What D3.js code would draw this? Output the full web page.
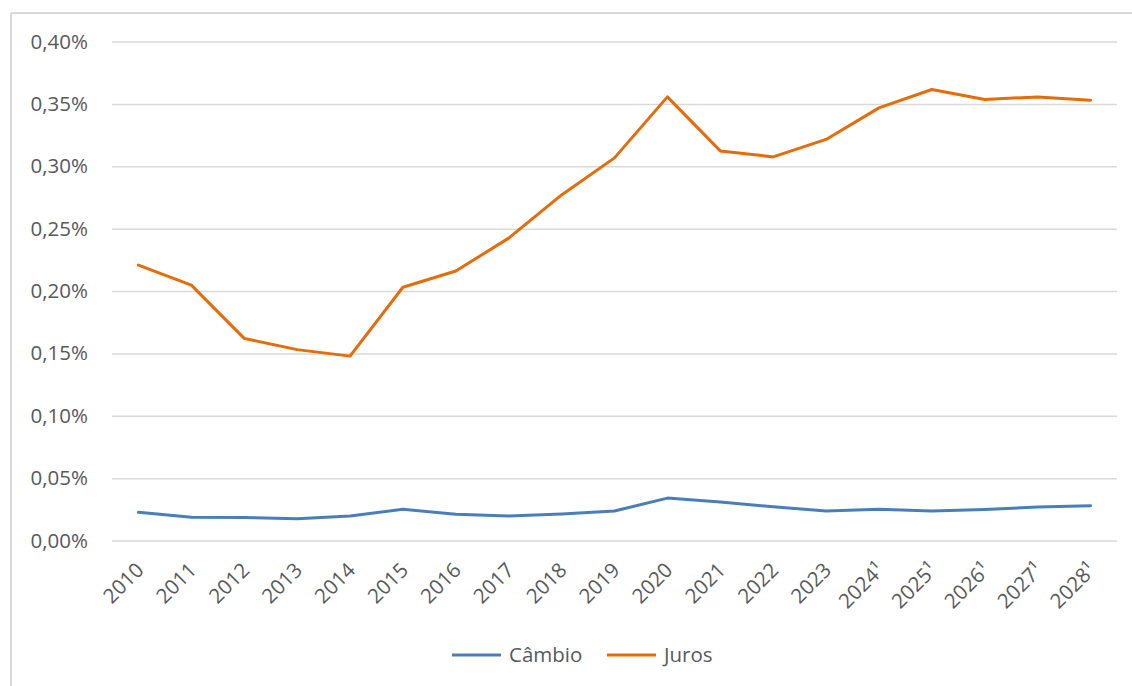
<!DOCTYPE html>
<html><head><meta charset="utf-8">
<script src="https://cdn.jsdelivr.net/npm/d3@7"></script>
<style>body{margin:0;background:#fff}svg{display:block}</style>
</head><body>
<svg id="c" width="1132" height="686"></svg>
<script>
const years = ["2010","2011","2012","2013","2014","2015","2016","2017","2018","2019","2020","2021","2022","2023","2024¹","2025¹","2026¹","2027¹","2028¹"];
const cambio = [0.0226,0.0186,0.0184,0.0175,0.0196,0.0250,0.0210,0.0196,0.0212,0.0236,0.0340,0.0308,0.0270,0.0236,0.0250,0.0236,0.0248,0.0268,0.0279];
const juros = [0.2208,0.2047,0.1620,0.1530,0.1478,0.2030,0.2160,0.2424,0.2770,0.3067,0.3556,0.3123,0.3075,0.3215,0.3468,0.3615,0.3535,0.3556,0.3530];
const yTicks = [0,0.05,0.10,0.15,0.20,0.25,0.30,0.35,0.40];
const seriesNames = ["Câmbio","Juros"];
const colors = ["#4A7EBB","#E46C0A"];

const svg = d3.select("#c");
const font = "'Open Sans', sans-serif";
const fs = "20.5px";
const L = 112, R = 1117, T = 41.5, B = 540.5;
const x = d3.scalePoint().domain(years).range([L, R]).padding(0.5);
const y = d3.scaleLinear().domain([0, 0.40]).range([B, T]);

// outer border (top & left only visible)
svg.append("line").attr("x1",11).attr("x2",1132).attr("y1",13).attr("y2",13).attr("stroke","#d9d9d9").attr("stroke-width",2);
svg.append("line").attr("x1",11).attr("x2",11).attr("y1",13).attr("y2",686).attr("stroke","#d9d9d9").attr("stroke-width",2);

// gridlines
const yAxis = d3.axisLeft(y).tickValues(yTicks).tickSize(-(R-L)).tickPadding(24)
  .tickFormat(d => d.toFixed(2).replace(".", ",") + "%");
const gy = svg.append("g").attr("transform",`translate(${L},0)`).call(yAxis);
gy.select(".domain").remove();
gy.selectAll(".tick line").attr("stroke","#d9d9d9").attr("stroke-width",1.5);
gy.selectAll(".tick text").attr("fill","#595959").style("font-family",font).style("font-size",fs);

// x axis labels
const xAxis = d3.axisBottom(x).tickSize(0).tickPadding(0);
const gx = svg.append("g").attr("transform",`translate(0,${B})`).call(xAxis);
gx.select(".domain").remove();
gx.selectAll(".tick text")
  .attr("fill","#595959").style("font-family",font).style("font-size",fs)
  .attr("text-anchor","end").attr("dy",null).attr("y",0)
  .attr("transform","translate(6,31) rotate(-45)");

const line = d3.line().x((d,i)=>x(years[i])).y(d=>y(d));
[cambio, juros].forEach((s,k)=>{
  svg.append("path").datum(s).attr("d",line).attr("fill","none")
    .attr("stroke",colors[k]).attr("stroke-width",3).attr("stroke-linejoin","round").attr("stroke-linecap","round");
});

// legend
const legX = [452, 607];
seriesNames.forEach((n,k)=>{
  svg.append("line").attr("x1",legX[k]).attr("x2",legX[k]+49).attr("y1",655).attr("y2",655)
    .attr("stroke",colors[k]).attr("stroke-width",3);
  svg.append("text").attr("x",legX[k]+57).attr("y",662).text(n)
    .attr("fill","#595959").style("font-family",font).style("font-size",fs);
});
</script>
</body></html>
